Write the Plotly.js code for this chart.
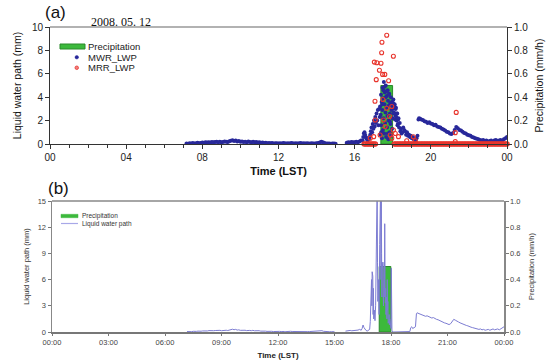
<!DOCTYPE html>
<html>
<head>
<meta charset="utf-8">
<script src="https://cdn.plot.ly/plotly-3.0.1.min.js"></script>
<style>html,body{margin:0;padding:0;background:#fff;}#chart{width:549px;height:363px;}</style>
</head>
<body>
<div id="chart"></div>
<script>
// ---------- DATA (time in minutes after midnight, LST) ----------
var precipMin = [1061];          // centre of the precipitation bar (17:41)
var precipWidth = [37];           // bar width in minutes
var precipRate = [0.5];           // mm/h

// shared liquid water path, before the rain (07:10-16:20)
var earlyMin = [430,435,440,445,450,455,460,465,470,475,480,485,490,495,500,505,510,515,520,525,530,535,540,545,550,555,560,565,570,575,580,585,590,595,600,605,610,615,620,625,630,635,640,645,650,655,660,665,670,675,680,685,690,695,700,705,710,715,720,725,730,735,740,745,750,755,760,765,770,775,780,785,790,795,800,805,810,815,820,825,830,835,840,845,850,855,860,865,870,875,880,885,890,895,900,915,935,940,945,950,955,960,965,970,975,980];
var earlyLwp = [0.05,0.03,0.06,0.04,0.08,0.05,0.07,0.10,0.06,0.09,0.12,0.10,0.14,0.12,0.16,0.13,0.18,0.15,0.17,0.20,0.16,0.19,0.15,0.18,0.22,0.20,0.17,0.24,0.28,0.32,0.26,0.30,0.22,0.25,0.19,0.22,0.18,0.20,0.16,0.21,0.18,0.15,0.19,0.14,0.17,0.12,0.15,0.10,0.12,0.08,0.10,0.07,0.09,0.06,0.08,0.05,0.07,0.06,0.04,0.07,0.05,0.08,0.06,0.04,0.07,0.05,0.08,0.06,0.05,0.07,0.04,0.06,0.08,0.05,0.07,0.05,0.06,0.04,0.05,0.07,0.05,0.04,0.06,0.08,0.12,0.20,0.15,0.08,0.05,0.04,0.05,0.03,0.04,0.05,0.03,null,0.10,0.15,0.12,0.18,0.14,0.16,0.20,0.15,0.22,0.30];

// shared liquid water path, after the rain (19:21-24:00)
var lateMin = [1161,1163,1166,1170,1175,1180,1185,1190,1195,1200,1205,1210,1215,1220,1225,1230,1235,1240,1245,1250,1255,1260,1265,1270,1275,1280,1285,1290,1295,1300,1305,1310,1315,1320,1325,1330,1335,1340,1345,1350,1355,1360,1365,1370,1375,1380,1385,1390,1395,1400,1405,1410,1415,1420,1425,1430,1435,1440];
var lateLwp = [2.1,2.2,2.15,2.1,2.05,1.95,1.9,1.8,1.85,1.75,1.7,1.6,1.65,1.5,1.45,1.4,1.3,1.25,1.15,1.05,1.0,0.9,0.85,0.95,1.2,1.45,1.35,1.2,1.15,1.05,0.95,0.9,0.8,0.75,0.7,0.6,0.55,0.5,0.45,0.4,0.35,0.3,0.35,0.25,0.3,0.2,0.25,0.3,0.2,0.3,0.35,0.25,0.3,0.35,0.25,0.4,0.5,0.6];

// panel (a) MWR_LWP during the rain (16:25-19:18)
var rainMinA = [985,987,989,991,993,995,997,999,1001,1003,1005,1007,1009,1011,1013,1015,1017,1019,1021,1023,1025,1027,1029,1031,1033,1035,1037,1039,
1040,1041,1042,1043,1044,1045,1046,1047,1048,1049,1050,1051,1052,1053,1054,1055,1056,1057,1058,1059,1060,1061,1062,1063,1064,1065,1066,1067,1068,1069,1070,1071,1072,1073,1074,1075,1076,1077,1078,1079,1080,
1043.5,1047.5,1050.5,1054.5,1057.5,1060.5,1064.5,1067.5,1071.5,1075.5,
1081,1082,1083,1084,1085,1086,1087,1088,1089,1090,1091,1092,1093,1094,1095,1096,1097,1098,1100,1102,1104,1106,1108,1110,1113,1116,1119,1122,1125,1128,1131,1134,1137,1140,1143,1146,1149,1152,1155,1158];
var rainLwpA = [0.3,0.6,0.9,1.0,0.8,0.6,0.5,0.4,0.3,0.5,0.4,0.6,0.8,1.1,1.4,1.0,1.7,1.3,2.0,1.5,2.3,1.8,2.6,2.0,2.9,1.6,3.0,2.3,
3.2,0.8,2.5,4.2,1.6,3.6,0.5,2.9,4.8,1.2,3.9,2.2,5.3,0.9,3.4,4.4,1.8,2.7,5.0,0.6,3.1,4.1,1.4,2.4,4.6,3.7,0.4,2.0,3.3,4.3,1.0,2.6,3.5,1.7,4.0,0.7,2.9,3.6,1.3,2.2,3.0,
1.0,3.4,4.6,4.9,4.0,4.5,0.9,4.2,1.9,3.3,
3.5,3.8,2.6,2.7,3.3,3.4,2.1,2.4,3.0,3.1,2.3,2.0,2.6,2.6,1.6,1.7,2.1,2.2,1.4,1.8,1.1,1.3,0.9,1.0,1.4,1.2,1.1,0.8,1.0,0.7,0.8,0.6,0.7,0.5,0.6,0.4,0.5,0.3,0.5,0.7];

// panel (b) liquid water path during the rain (16:25-19:18)
var rainMinB = [985,988,991,994,997,1000,1004,1008,1012,1014,1016,1017,1018,1019,1020,1021,1022,1023,1024,1025,1027,1029,1031,1033,1034,1035,1036,1037,1038,1039,1040,1042,1044,1045,1046,1047,1048,1049,1050,1051,1052,1053,1054,1056,1058,1059,1060,1061,1062,1063,1064,1066,1067,1068,1069,1070,1071,1072,1073,1074,1075,1076,1077,1078,1079,1080,1081,1082,1083,1085,1095,1105,1115,1125,1135,1140,1143,1146,1149,1152,1155,1158];
var rainLwpB = [0.2,0.4,0.8,0.5,0.3,0.2,0.1,0.2,0.3,1.2,4.5,2.5,6.0,3.0,6.9,4.0,6.4,2.0,5.0,1.5,2.5,1.3,3.0,9.0,17,15.5,17,8.0,3.5,4.2,6.0,2.0,10.0,17,13.0,17,6.0,16.5,9.0,4.0,8.0,5.0,7.0,3.0,8.0,4.0,12.4,6.0,3.3,5.0,2.0,4.0,1.5,6.0,2.5,3.5,1.0,2.5,1.3,2.0,0.8,1.5,1.3,0.6,1.0,0.4,7.3,0.3,0.2,0.0,0.0,0.0,0.0,0.0,0.0,0.05,0.5,0.6,0.4,0.5,0.55,0.6];

// panel (a) MRR_LWP: readings at zero, then the scattered non-zero readings
var mrrZeroMin = [990,995,1000,1005,1010,1015,1020,1025,1085,1090,1095,1100,1105,1110,1115,1120,1125,1130,1135,1140,1145,1150,1155,1160,1165,1170,1175,1180,1185,1190,1195,1200,1205,1210,1215,1220,1225,1230,1235,1240,1245,1250,1255,1260,1265,1270,1275,1280,1285,1290,1295,1300,1305,1310,1315,1320,1325,1330,1335,1340,1345,1350,1355,1360,1365,1370,1375,1380,1385,1390,1395,1400,1405,1410,1415,1420,1425,1430,1435,1440];
var mrrZeroLwp = [0,0,0,0,0,0,0,0,0,0,0,0,0,0,0,0,0,0,0,0,0,0,0,0,0,0,0,0,0,0,0,0,0,0,0,0,0,0,0,0,0,0,0,0,0,0,0,0,0,0,0,0,0,0,0,0,0,0,0,0,0,0,0,0,0,0,0,0,0,0,0,0,0,0,0,0,0,0,0,0];
var mrrMin = [1061,1046,1045,1082,1022,1030,1043,1038,1048,1055,1028,1067,1024,1049,1025,1061,1077,1070,1051,1082,1072,1077,1056,1040,1020,1009,1088,1098,1124,1145,1151,1280,1277,1277];
var mrrLwp = [9.3,8.7,7.8,7.5,7.0,6.95,6.9,6.3,5.95,5.95,5.5,5.4,3.65,3.8,2.05,3.05,3.2,2.35,2.05,1.2,0.77,0.5,1.5,0.77,0.63,0.5,0.9,0.63,0.28,0.62,0.28,2.7,0.97,0.2];

// tick labels
var tickMinA = [0,240,480,720,960,1200,1440];
var tickTextA = ['00','04','08','12','16','20','00'];
var tickMinB = [0,180,360,540,720,900,1080,1260,1440];
var tickTextB = ['00:00','03:00','06:00','09:00','12:00','15:00','18:00','21:00','00:00'];

// ---------- BUILD ----------
var mwrMin = earlyMin.concat(rainMinA, lateMin);
var mwrLwp = earlyLwp.concat(rainLwpA, lateLwp);
var lineMin = earlyMin.concat(rainMinB, lateMin);
var lineLwp = earlyLwp.concat(rainLwpB, lateLwp);

var FONT = 'Arial, "Liberation Sans", sans-serif';
var BLUE = '#28289a', RED = '#e8342c', GREEN = '#3cb93c', GREEN_LINE = '#2a8a2a', LAV = '#7c7cd2';

var traces = [
  {type:'bar', x:precipMin, y:precipRate, width:precipWidth, xaxis:'x', yaxis:'y',
   marker:{color:GREEN, line:{color:GREEN_LINE, width:1}}, name:'Precipitation'},
  {type:'scatter', mode:'markers', x:mwrMin, y:mwrLwp, xaxis:'x', yaxis:'y2',
   marker:{color:BLUE, size:4}, name:'MWR_LWP'},
  {type:'scatter', mode:'markers', x:mrrZeroMin, y:mrrZeroLwp, xaxis:'x', yaxis:'y2',
   marker:{color:RED, size:4, symbol:'circle-open', line:{width:1.6, color:RED}}, name:'MRR_LWP zero', cliponaxis:false},
  {type:'scatter', mode:'markers', x:mrrMin, y:mrrLwp, xaxis:'x', yaxis:'y2',
   marker:{color:RED, size:4, symbol:'circle-open', line:{width:1.1, color:RED}}, name:'MRR_LWP'},
  {type:'bar', x:precipMin, y:precipRate, width:precipWidth, xaxis:'x3', yaxis:'y3',
   marker:{color:GREEN, line:{color:GREEN_LINE, width:1}}, name:'Precipitation'},
  {type:'scatter', mode:'lines', x:lineMin, y:lineLwp, xaxis:'x3', yaxis:'y4',
   line:{color:LAV, width:1}, connectgaps:false, name:'Liquid water path'}
];

var axA = {color:'#222', linecolor:'#333', tickcolor:'#333', showline:true, showgrid:false, zeroline:false,
           ticks:'outside', ticklen:4, tickfont:{family:FONT, size:10, color:'#222'}};
var axB = {color:'#444', linecolor:'#888', tickcolor:'#777', showline:true, linewidth:1.5, showgrid:false, zeroline:false,
           ticks:'outside', ticklen:3, tickfont:{family:FONT, size:7.5, color:'#444'}};
function ext(a,b){var o={};for(var k in a)o[k]=a[k];for(var k2 in b)o[k2]=b[k2];return o;}

var yTopA = 1.0, yBotA = 188/305, yTopB = 131/305;
var layout = {
  width:549, height:363, margin:{l:50, r:42, t:27, b:31},
  paper_bgcolor:'#fff', plot_bgcolor:'rgba(0,0,0,0)', showlegend:false, bargap:0,
  font:{family:FONT, color:'#222'},
  xaxis: ext(axA, {domain:[0,1], anchor:'y', range:[0,1440], tickmode:'array', tickvals:tickMinA, ticktext:tickTextA,
    minor:{dtick:60, tick0:0, ticks:'outside', ticklen:3, tickcolor:'#333'},
    title:{text:'<b>Time (LST)</b>', font:{family:FONT, size:11, color:'#111'}, standoff:5}}),
  yaxis: ext(axA, {domain:[yBotA, yTopA], anchor:'x', side:'right', range:[0,1], tickmode:'array',
    tickvals:[0,0.2,0.4,0.6,0.8,1.0], tickformat:'.1f',
    title:{text:'Precipitation (mm/h)', font:{family:FONT, size:10.5, color:'#111'}, standoff:8}}),
  yaxis2: ext(axA, {overlaying:'y', anchor:'x', side:'left', range:[0,10], tickmode:'array', tickvals:[0,2,4,6,8,10],
    title:{text:'Liquid water path (mm)', font:{family:FONT, size:10.5, color:'#111'}, standoff:8}}),
  xaxis3: ext(axB, {domain:[2/457, 454/457], anchor:'y3', range:[0,1440], tickmode:'array', tickvals:tickMinB, ticktext:tickTextB,
    linewidth:2, linecolor:'#777', ticklen:2,
    title:{text:'<b>Time (LST)</b>', font:{family:FONT, size:8, color:'#222'}, standoff:6}}),
  yaxis3: ext(axB, {domain:[0, yTopB], anchor:'x3', side:'right', range:[0,1], tickmode:'array',
    tickvals:[0,0.2,0.4,0.6,0.8,1.0], tickformat:'.1f',
    title:{text:'Precipitation (mm/h)', font:{family:FONT, size:7.5, color:'#333'}, standoff:9}}),
  yaxis4: ext(axB, {overlaying:'y3', anchor:'x3', side:'left', range:[0,15], tickmode:'array', tickvals:[0,3,6,9,12,15],
    title:{text:'Liquid water path (mm)', font:{family:FONT, size:7.5, color:'#333'}, standoff:7}}),
  shapes:[
    {type:'line', xref:'paper', yref:'paper', x0:0, x1:1, y0:1, y1:1, line:{color:'#666', width:1.2}},
    {type:'line', xref:'paper', yref:'paper', x0:2/457, x1:454/457, y0:yTopB, y1:yTopB, line:{color:'#888', width:1.5}},
    // legend glyphs, panel (a)
    {type:'rect', xref:'paper', yref:'paper', x0:10/457, x1:35/457, y0:(332-49)/305, y1:(332-44)/305,
     fillcolor:GREEN, line:{color:GREEN_LINE, width:1}},
    {type:'circle', xref:'paper', yref:'paper', x0:25/457, x1:28.5/457, y0:(332-59)/305, y1:(332-55.5)/305,
     fillcolor:BLUE, line:{color:BLUE, width:0.5}},
    {type:'circle', xref:'paper', yref:'paper', x0:25/457, x1:28.5/457, y0:(332-69.5)/305, y1:(332-66)/305,
     fillcolor:'#f08080', line:{color:RED, width:0.8}},
    // legend glyphs, panel (b)
    {type:'rect', xref:'paper', yref:'paper', x0:11/457, x1:28/457, y0:(332-217.7)/305, y1:(332-214.3)/305,
     fillcolor:GREEN, line:{color:GREEN, width:0.5}},
    {type:'line', xref:'paper', yref:'paper', x0:11/457, x1:28/457, y0:(332-223.5)/305, y1:(332-223.5)/305,
     line:{color:'#a8a8e8', width:1.2}}
  ],
  annotations:[
    {xref:'paper', yref:'paper', x:37/457, y:(332-46.7)/305, text:'Precipitation', showarrow:false, xanchor:'left', yanchor:'middle',
     borderpad:0, font:{family:FONT, size:9.5, color:'#222'}},
    {xref:'paper', yref:'paper', x:37/457, y:(332-57.3)/305, text:'MWR_LWP', showarrow:false, xanchor:'left', yanchor:'middle',
     borderpad:0, font:{family:FONT, size:9.5, color:'#222'}},
    {xref:'paper', yref:'paper', x:37/457, y:(332-67.7)/305, text:'MRR_LWP', showarrow:false, xanchor:'left', yanchor:'middle',
     borderpad:0, font:{family:FONT, size:9.5, color:'#222'}},
    {xref:'paper', yref:'paper', x:31/457, y:(332-215.7)/305, text:'Precipitation', showarrow:false, xanchor:'left', yanchor:'middle',
     borderpad:0, font:{family:FONT, size:6.5, color:'#333'}},
    {xref:'paper', yref:'paper', x:31/457, y:(332-223.5)/305, text:'Liquid water path', showarrow:false, xanchor:'left', yanchor:'middle',
     borderpad:0, font:{family:FONT, size:6.5, color:'#333'}},
    {xref:'paper', yref:'paper', x:(43-50)/457, y:(332-13)/305, text:'(a)', showarrow:false, xanchor:'left', yanchor:'middle',
     font:{family:FONT, size:17, color:'#111'}},
    {xref:'paper', yref:'paper', x:(46-50)/457, y:(332-188)/305, text:'(b)', showarrow:false, xanchor:'left', yanchor:'middle',
     font:{family:FONT, size:17, color:'#111'}},
    {xref:'paper', yref:'paper', x:(89-50)/457, y:(332-22)/305, text:'2008. 05. 12', showarrow:false, xanchor:'left', yanchor:'middle',
     font:{family:'"Liberation Serif", "DejaVu Serif", serif', size:12, color:'#111'}}
  ]
};

Plotly.newPlot('chart', traces, layout, {staticPlot:true, displayModeBar:false});
</script>
</body>
</html>
